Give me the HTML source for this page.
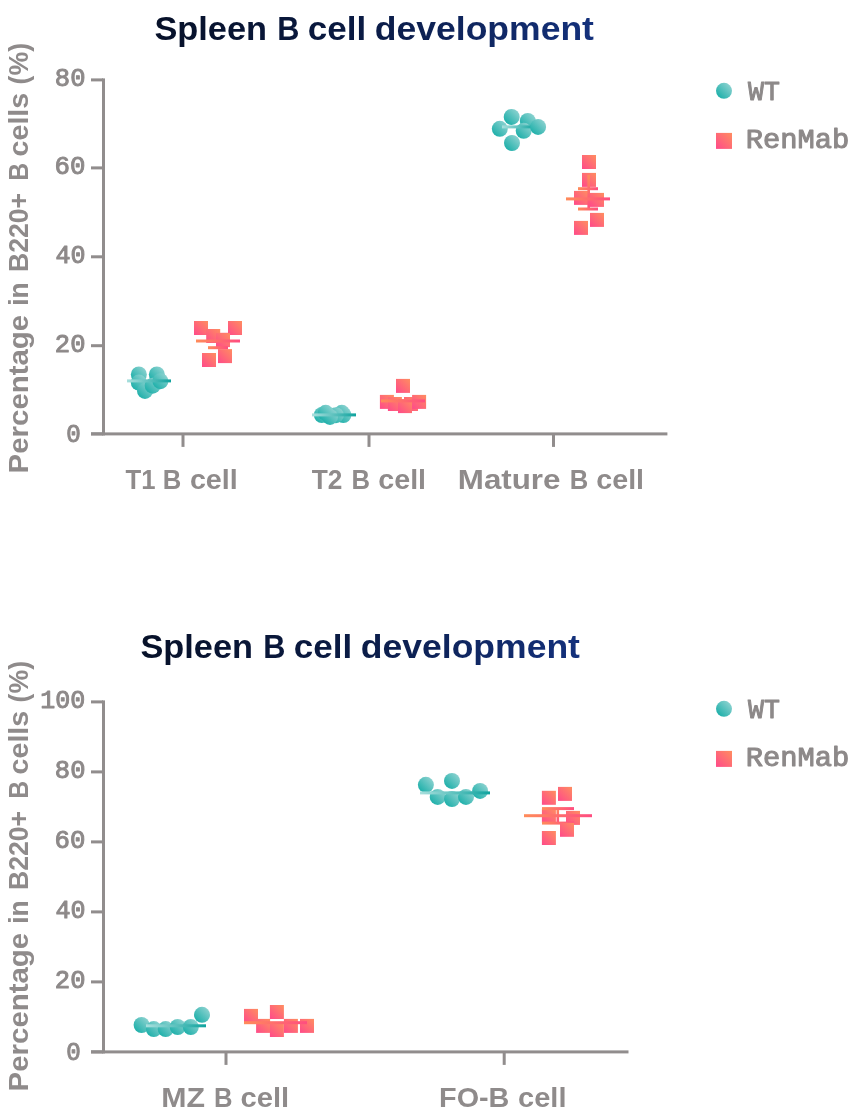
<!DOCTYPE html>
<html lang="en">
<head>
<meta charset="utf-8">
<title>Spleen B cell development</title>
<style>
html,body{margin:0;padding:0;background:#fff;}
body{width:851px;height:1115px;overflow:hidden;}
svg{display:block;}
.title{font-family:"Liberation Sans",Arial,sans-serif;font-weight:bold;}
.lab{font-family:"Liberation Sans",Arial,sans-serif;font-weight:bold;fill:#8f8b8b;}
.mono{font-family:"Liberation Mono","DejaVu Sans Mono",monospace;font-weight:normal;fill:#8d8989;stroke:#8d8989;stroke-width:1px;stroke-linejoin:round;}
</style>
</head>
<body>
<svg width="851" height="1115" viewBox="0 0 851 1115">
<defs>
<linearGradient id="gT" x1="0" y1="1" x2="1" y2="0"><stop offset="0.1" stop-color="#19aea8"/><stop offset="0.9" stop-color="#8fd3d1"/></linearGradient>
<linearGradient id="gP" x1="0" y1="1" x2="1" y2="0"><stop offset="0.05" stop-color="#ff4d88"/><stop offset="0.95" stop-color="#ff8a62"/></linearGradient>
<linearGradient id="gTL" x1="0" y1="0" x2="1" y2="0"><stop offset="0" stop-color="#a9dfdd"/><stop offset="1" stop-color="#0fa39e"/></linearGradient>
<linearGradient id="gPL" x1="0" y1="0" x2="1" y2="0"><stop offset="0" stop-color="#ff8c5a"/><stop offset="1" stop-color="#ff4d80"/></linearGradient>
<linearGradient id="gPV" x1="0" y1="0" x2="0" y2="1"><stop offset="0" stop-color="#ff8c5a"/><stop offset="1" stop-color="#ff4d80"/></linearGradient>
</defs>
<rect width="851" height="1115" fill="#ffffff"/>

<!-- chart 1 -->
<linearGradient id="tg1" gradientUnits="userSpaceOnUse" x1="1.03" y1="0" x2="422.26" y2="0"><stop offset="0" stop-color="#071129"/><stop offset="0.45" stop-color="#0a1a42"/><stop offset="1" stop-color="#14317c"/></linearGradient><text class="title" transform="translate(154.43,40.20) scale(1.0400,1)" font-size="33" fill="url(#tg1)">Spleen</text>
<linearGradient id="tg2" gradientUnits="userSpaceOnUse" x1="-130.90" y1="0" x2="340.17" y2="0"><stop offset="0" stop-color="#071129"/><stop offset="0.45" stop-color="#0a1a42"/><stop offset="1" stop-color="#14317c"/></linearGradient><text class="title" transform="translate(277.24,40.20) scale(0.9300,1)" font-size="33" fill="url(#tg2)">B</text>
<linearGradient id="tg3" gradientUnits="userSpaceOnUse" x1="-143.67" y1="0" x2="269.51" y2="0"><stop offset="0" stop-color="#071129"/><stop offset="0.45" stop-color="#0a1a42"/><stop offset="1" stop-color="#14317c"/></linearGradient><text class="title" transform="translate(307.83,40.20) scale(1.0603,1)" font-size="33" fill="url(#tg3)">cell</text>
<linearGradient id="tg4" gradientUnits="userSpaceOnUse" x1="-203.64" y1="0" x2="203.16" y2="0"><stop offset="0" stop-color="#071129"/><stop offset="0.45" stop-color="#0a1a42"/><stop offset="1" stop-color="#14317c"/></linearGradient><text class="title" transform="translate(374.81,40.20) scale(1.0769,1)" font-size="33" fill="url(#tg4)">development</text>
<g transform="translate(27.8,471.4) rotate(-90)">
<text class="lab" transform="translate(-1.98,0.00) scale(1.0979,1)" font-size="26.8">Percentage</text>
<text class="lab" transform="translate(165.53,0.00) scale(0.9824,1)" font-size="26.8">in</text>
<text class="lab" transform="translate(199.51,0.00) scale(0.9910,1)" font-size="26.8">B220+</text>
<text class="lab" transform="translate(290.67,0.00) scale(0.9300,1)" font-size="26.8">B</text>
<text class="lab" transform="translate(314.90,0.00) scale(1.0702,1)" font-size="26.8">cells</text>
<text class="lab" transform="translate(386.92,0.00) scale(0.9971,1)" font-size="26.8">(%)</text>
</g>
<circle cx="724" cy="90.8" r="8" fill="url(#gT)"/>
<rect x="716.0" y="132.9" width="16" height="16" fill="url(#gP)"/>
<text class="mono" transform="translate(747.99,99.50) scale(0.9860,1)" font-size="27">WT</text>
<text class="mono" transform="translate(745.63,147.80) scale(1.0670,1)" font-size="27">RenMab</text>
<rect x="102" y="78.4" width="3" height="357.0" fill="#918d8d"/>
<rect x="91" y="78.4" width="12" height="3" fill="#918d8d"/>
<text class="mono" transform="translate(54.87,85.90) scale(0.9809,1)" font-size="26">80</text>
<rect x="91" y="166.4" width="12" height="3" fill="#918d8d"/>
<text class="mono" transform="translate(54.62,173.90) scale(0.9895,1)" font-size="26">60</text>
<rect x="91" y="255.3" width="12" height="3" fill="#918d8d"/>
<text class="mono" transform="translate(55.38,262.80) scale(0.9641,1)" font-size="26">40</text>
<rect x="91" y="344.2" width="12" height="3" fill="#918d8d"/>
<text class="mono" transform="translate(54.87,351.70) scale(0.9809,1)" font-size="26">20</text>
<rect x="91" y="432.4" width="12" height="3" fill="#918d8d"/>
<text class="mono" transform="translate(66.19,442.10) scale(0.9300,1)" font-size="26">0</text>
<rect x="91" y="432.4" width="576.4" height="3" fill="#918d8d"/>
<rect x="181.5" y="433.9" width="3" height="13" fill="#918d8d"/>
<rect x="367.5" y="433.9" width="3" height="13" fill="#918d8d"/>
<rect x="552.0" y="433.9" width="3" height="13" fill="#918d8d"/>
<text class="lab" transform="translate(125.51,489.00) scale(0.9300,1)" font-size="27.6">T1</text>
<text class="lab" transform="translate(162.70,489.00) scale(0.9300,1)" font-size="27.6">B</text>
<text class="lab" transform="translate(189.90,489.00) scale(1.0374,1)" font-size="27.6">cell</text>
<text class="lab" transform="translate(311.65,489.00) scale(0.9518,1)" font-size="27.6">T2</text>
<text class="lab" transform="translate(351.40,489.00) scale(0.9300,1)" font-size="27.6">B</text>
<text class="lab" transform="translate(378.30,489.00) scale(1.0374,1)" font-size="27.6">cell</text>
<text class="lab" transform="translate(457.79,489.00) scale(1.1350,1)" font-size="27.6">Mature</text>
<text class="lab" transform="translate(569.75,489.00) scale(0.9300,1)" font-size="27.6">B</text>
<text class="lab" transform="translate(596.30,489.00) scale(1.0374,1)" font-size="27.6">cell</text>
<circle cx="138.85" cy="374.5" r="8" fill="url(#gT)"/>
<circle cx="156.85" cy="374.5" r="8" fill="url(#gT)"/>
<circle cx="138.8" cy="382.6" r="8" fill="url(#gT)"/>
<circle cx="145.0" cy="390.9" r="8" fill="url(#gT)"/>
<circle cx="152.7" cy="385.7" r="8" fill="url(#gT)"/>
<circle cx="160.4" cy="381.2" r="8" fill="url(#gT)"/>
<rect x="127" y="379.4" width="44" height="3" fill="url(#gTL)"/>
<rect x="216.7" y="334.3" width="2.6" height="13.399999999999977" fill="url(#gPV)"/>
<rect x="208" y="332.8" width="20" height="3" fill="url(#gPL)"/>
<rect x="194.0" y="321.0" width="14" height="14" fill="url(#gP)"/>
<rect x="228.0" y="321.0" width="14" height="14" fill="url(#gP)"/>
<rect x="206.2" y="329.0" width="14" height="14" fill="url(#gP)"/>
<rect x="216.0" y="333.1" width="14" height="14" fill="url(#gP)"/>
<rect x="218.0" y="349.1" width="14" height="14" fill="url(#gP)"/>
<rect x="202.0" y="353.0" width="14" height="14" fill="url(#gP)"/>
<rect x="208" y="346.2" width="20" height="3" fill="url(#gPL)"/>
<rect x="196" y="339.5" width="44" height="3" fill="url(#gPL)"/>
<circle cx="343.4" cy="415" r="8" fill="url(#gT)"/>
<circle cx="341.85" cy="412.8" r="8" fill="url(#gT)"/>
<circle cx="335.9" cy="415.2" r="8" fill="url(#gT)"/>
<circle cx="321.85" cy="415" r="8" fill="url(#gT)"/>
<circle cx="330" cy="416.9" r="8" fill="url(#gT)"/>
<circle cx="325.7" cy="412.8" r="8" fill="url(#gT)"/>
<rect x="312" y="413.4" width="44" height="3" fill="url(#gTL)"/>
<rect x="396.0" y="378.9" width="14" height="14" fill="url(#gP)"/>
<rect x="379.9" y="394.9" width="14" height="14" fill="url(#gP)"/>
<rect x="387.9" y="397.0" width="14" height="14" fill="url(#gP)"/>
<rect x="404.0" y="397.0" width="14" height="14" fill="url(#gP)"/>
<rect x="398.0" y="399.1" width="14" height="14" fill="url(#gP)"/>
<rect x="412.1" y="394.9" width="14" height="14" fill="url(#gP)"/>
<rect x="381" y="399.4" width="44" height="3" fill="url(#gPL)"/>
<circle cx="511.7" cy="116.9" r="8" fill="url(#gT)"/>
<circle cx="499.8" cy="128.8" r="8" fill="url(#gT)"/>
<circle cx="527.8" cy="121" r="8" fill="url(#gT)"/>
<circle cx="523.7" cy="130.8" r="8" fill="url(#gT)"/>
<rect x="502" y="125.4" width="34" height="3" fill="url(#gTL)"/>
<circle cx="538.1" cy="126.9" r="8" fill="url(#gT)"/>
<circle cx="512.0" cy="143.0" r="8" fill="url(#gT)"/>
<rect x="582.0" y="155.0" width="14" height="14" fill="url(#gP)"/>
<rect x="582.0" y="172.9" width="14" height="14" fill="url(#gP)"/>
<rect x="574.0" y="190.9" width="14" height="14" fill="url(#gP)"/>
<rect x="590.0" y="192.9" width="14" height="14" fill="url(#gP)"/>
<rect x="590.0" y="212.9" width="14" height="14" fill="url(#gP)"/>
<rect x="574.0" y="220.9" width="14" height="14" fill="url(#gP)"/>
<rect x="587.4000000000001" y="175" width="2.6" height="33" fill="url(#gPV)"/>
<rect x="578" y="187.2" width="20" height="3" fill="url(#gPL)"/>
<rect x="578" y="207.5" width="20" height="3" fill="url(#gPL)"/>
<rect x="566" y="197.4" width="44" height="3" fill="url(#gPL)"/>
<!-- chart 2 -->
<linearGradient id="tg5" gradientUnits="userSpaceOnUse" x1="1.03" y1="0" x2="422.26" y2="0"><stop offset="0" stop-color="#071129"/><stop offset="0.45" stop-color="#0a1a42"/><stop offset="1" stop-color="#14317c"/></linearGradient><text class="title" transform="translate(140.43,658.20) scale(1.0400,1)" font-size="33" fill="url(#tg5)">Spleen</text>
<linearGradient id="tg6" gradientUnits="userSpaceOnUse" x1="-130.90" y1="0" x2="340.17" y2="0"><stop offset="0" stop-color="#071129"/><stop offset="0.45" stop-color="#0a1a42"/><stop offset="1" stop-color="#14317c"/></linearGradient><text class="title" transform="translate(263.24,658.20) scale(0.9300,1)" font-size="33" fill="url(#tg6)">B</text>
<linearGradient id="tg7" gradientUnits="userSpaceOnUse" x1="-143.67" y1="0" x2="269.51" y2="0"><stop offset="0" stop-color="#071129"/><stop offset="0.45" stop-color="#0a1a42"/><stop offset="1" stop-color="#14317c"/></linearGradient><text class="title" transform="translate(293.83,658.20) scale(1.0603,1)" font-size="33" fill="url(#tg7)">cell</text>
<linearGradient id="tg8" gradientUnits="userSpaceOnUse" x1="-203.64" y1="0" x2="203.16" y2="0"><stop offset="0" stop-color="#071129"/><stop offset="0.45" stop-color="#0a1a42"/><stop offset="1" stop-color="#14317c"/></linearGradient><text class="title" transform="translate(360.81,658.20) scale(1.0769,1)" font-size="33" fill="url(#tg8)">development</text>
<g transform="translate(27.8,1089.4) rotate(-90)">
<text class="lab" transform="translate(-1.98,0.00) scale(1.0979,1)" font-size="26.8">Percentage</text>
<text class="lab" transform="translate(165.53,0.00) scale(0.9824,1)" font-size="26.8">in</text>
<text class="lab" transform="translate(199.51,0.00) scale(0.9910,1)" font-size="26.8">B220+</text>
<text class="lab" transform="translate(290.67,0.00) scale(0.9300,1)" font-size="26.8">B</text>
<text class="lab" transform="translate(314.90,0.00) scale(1.0702,1)" font-size="26.8">cells</text>
<text class="lab" transform="translate(386.92,0.00) scale(0.9971,1)" font-size="26.8">(%)</text>
</g>
<circle cx="724" cy="708.8" r="8" fill="url(#gT)"/>
<rect x="716.0" y="750.9" width="16" height="16" fill="url(#gP)"/>
<text class="mono" transform="translate(747.99,717.50) scale(0.9860,1)" font-size="27">WT</text>
<text class="mono" transform="translate(745.63,765.80) scale(1.0670,1)" font-size="27">RenMab</text>
<rect x="102" y="700.4" width="3" height="353.0" fill="#918d8d"/>
<rect x="91" y="700.4" width="12" height="3" fill="#918d8d"/>
<text class="mono" transform="translate(40.26,707.90) scale(0.9627,1)" font-size="26">100</text>
<rect x="91" y="770.4" width="12" height="3" fill="#918d8d"/>
<text class="mono" transform="translate(54.87,777.90) scale(0.9809,1)" font-size="26">80</text>
<rect x="91" y="840.4" width="12" height="3" fill="#918d8d"/>
<text class="mono" transform="translate(54.62,847.90) scale(0.9895,1)" font-size="26">60</text>
<rect x="91" y="910.4" width="12" height="3" fill="#918d8d"/>
<text class="mono" transform="translate(55.38,917.90) scale(0.9641,1)" font-size="26">40</text>
<rect x="91" y="980.4" width="12" height="3" fill="#918d8d"/>
<text class="mono" transform="translate(54.87,987.90) scale(0.9809,1)" font-size="26">20</text>
<rect x="91" y="1050.4" width="12" height="3" fill="#918d8d"/>
<text class="mono" transform="translate(66.19,1060.10) scale(0.9300,1)" font-size="26">0</text>
<rect x="91" y="1050.4" width="537.5" height="3" fill="#918d8d"/>
<rect x="224.5" y="1051.9" width="3" height="13" fill="#918d8d"/>
<rect x="502.7" y="1051.9" width="3" height="13" fill="#918d8d"/>
<text class="lab" transform="translate(161.16,1106.80) scale(1.0981,1)" font-size="27.6">MZ</text>
<text class="lab" transform="translate(214.05,1106.80) scale(0.9300,1)" font-size="27.6">B</text>
<text class="lab" transform="translate(240.58,1106.80) scale(1.0560,1)" font-size="27.6">cell</text>
<text class="lab" transform="translate(439.06,1106.80) scale(1.0432,1)" font-size="27.6">FO-B</text>
<text class="lab" transform="translate(518.08,1106.80) scale(1.0514,1)" font-size="27.6">cell</text>
<circle cx="141.6" cy="1025" r="8" fill="url(#gT)"/>
<circle cx="153.8" cy="1029.1" r="8" fill="url(#gT)"/>
<circle cx="165.7" cy="1029.1" r="8" fill="url(#gT)"/>
<circle cx="177.7" cy="1027" r="8" fill="url(#gT)"/>
<circle cx="190.8" cy="1027" r="8" fill="url(#gT)"/>
<circle cx="202" cy="1014.8" r="8" fill="url(#gT)"/>
<rect x="146" y="1024.3" width="60" height="3" fill="url(#gTL)"/>
<rect x="244.0" y="1008.9" width="14" height="14" fill="url(#gP)"/>
<rect x="269.9" y="1005.0" width="14" height="14" fill="url(#gP)"/>
<rect x="256.1" y="1018.9000000000001" width="14" height="14" fill="url(#gP)"/>
<rect x="269.9" y="1023.0" width="14" height="14" fill="url(#gP)"/>
<rect x="283.9" y="1018.9000000000001" width="14" height="14" fill="url(#gP)"/>
<rect x="300.0" y="1018.9000000000001" width="14" height="14" fill="url(#gP)"/>
<rect x="244" y="1021.2" width="63" height="3" fill="url(#gPL)"/>
<circle cx="425.9" cy="784.8" r="8" fill="url(#gT)"/>
<circle cx="452" cy="780.9" r="8" fill="url(#gT)"/>
<circle cx="437.7" cy="796.9" r="8" fill="url(#gT)"/>
<circle cx="452" cy="799" r="8" fill="url(#gT)"/>
<circle cx="466" cy="796.9" r="8" fill="url(#gT)"/>
<circle cx="480.1" cy="790.9" r="8" fill="url(#gT)"/>
<rect x="420" y="791.4" width="70" height="3" fill="url(#gTL)"/>
<rect x="541.9" y="790.8" width="14" height="14" fill="url(#gP)"/>
<rect x="558.0" y="786.9" width="14" height="14" fill="url(#gP)"/>
<rect x="541.9" y="808.8" width="14" height="14" fill="url(#gP)"/>
<rect x="566.0" y="810.9" width="14" height="14" fill="url(#gP)"/>
<rect x="541.9" y="831.0" width="14" height="14" fill="url(#gP)"/>
<rect x="556.5" y="808.6" width="2.6" height="14.5" fill="url(#gPV)"/>
<rect x="542" y="807.1" width="32" height="3" fill="url(#gPL)"/>
<rect x="542" y="821.6" width="32" height="3" fill="url(#gPL)"/>
<rect x="524" y="814.2" width="68" height="3" fill="url(#gPL)"/>
<rect x="560.0" y="822.8" width="14" height="14" fill="url(#gP)"/>
</svg>
</body>
</html>
